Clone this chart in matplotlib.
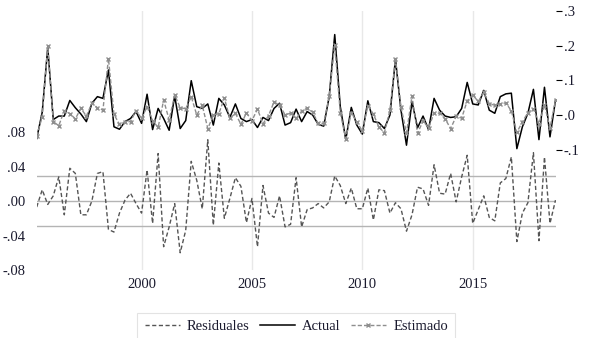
import matplotlib
matplotlib.use("Agg")
import matplotlib.pyplot as plt
import numpy as np
import pandas as pd

plt.rcParams['font.family'] = ['Liberation Serif', 'DejaVu Serif']

# quarterly sample 1995Q2 - 2018Q4
start_q = '1995Q2'
end_q = '2018Q4'

actual = [-0.068, 0.008, 0.195, -0.013, -0.003, -0.003, 0.042, 0.021, 0.003, -0.019,
          0.034, 0.053, 0.048, 0.130, -0.034, -0.041, -0.019, -0.010, 0.010, -0.024,
          0.060, -0.042, 0.019, -0.010, -0.044, 0.055, -0.039, -0.016, 0.099, 0.024,
          0.019, 0.032, -0.029, 0.048, 0.029, -0.007, 0.032, -0.010, -0.019, -0.013,
          -0.036, -0.007, -0.016, 0.019, 0.034, -0.029, -0.022, 0.017, -0.019, 0.010,
          0.000, -0.027, -0.032, 0.053, 0.232, 0.025, -0.071, 0.022, -0.029, -0.055,
          0.041, -0.019, -0.022, -0.039, 0.000, 0.161, 0.014, -0.087, 0.039, -0.037,
          -0.003, -0.042, 0.048, 0.014, -0.003, -0.007, -0.005, 0.019, 0.094, 0.032,
          0.029, 0.071, 0.014, 0.005, 0.053, 0.061, 0.063, -0.097, -0.034, 0.005,
          0.074, -0.071, 0.080, -0.063, 0.043]

fitted = [-0.061, -0.005, 0.199, -0.019, -0.031, 0.013, 0.004, -0.011, 0.019, -0.003,
          0.034, 0.021, 0.014, 0.163, 0.002, -0.027, -0.020, -0.019, 0.013, -0.010,
          0.024, -0.016, -0.036, 0.043, -0.014, 0.058, 0.021, 0.018, 0.053, 0.000,
          0.028, -0.039, -0.001, 0.004, 0.049, -0.010, 0.005, -0.027, 0.006, -0.016,
          0.017, -0.025, -0.002, 0.038, 0.028, 0.001, 0.005, -0.010, 0.011, 0.020,
          0.008, -0.024, -0.024, 0.054, 0.203, 0.007, -0.068, 0.007, -0.020, -0.046,
          0.026, 0.003, -0.035, -0.051, 0.014, 0.163, 0.023, -0.052, 0.055, -0.053,
          -0.017, -0.037, 0.006, 0.005, -0.011, -0.039, -0.004, -0.009, 0.041, 0.058,
          0.039, 0.065, 0.033, 0.028, 0.032, 0.035, 0.012, -0.050, -0.020, 0.007,
          0.018, -0.025, 0.029, -0.037, 0.042]

resid = [-0.007, 0.013, -0.004, 0.006, 0.028, -0.016, 0.038, 0.032, -0.016, -0.016,
         0.000, 0.032, 0.034, -0.033, -0.036, -0.014, 0.001, 0.009, -0.003, -0.014,
         0.036, -0.026, 0.055, -0.053, -0.030, -0.003, -0.060, -0.034, 0.046, 0.024,
         -0.009, 0.071, -0.028, 0.044, -0.020, 0.003, 0.027, 0.017, -0.025, 0.003,
         -0.053, 0.018, -0.014, -0.019, 0.006, -0.030, -0.027, 0.027, -0.030, -0.010,
         -0.008, -0.003, -0.008, -0.001, 0.029, 0.018, -0.003, 0.015, -0.009, -0.009,
         0.015, -0.022, 0.013, 0.012, -0.014, -0.002, -0.009, -0.035, -0.016, 0.016,
         0.014, -0.005, 0.042, 0.009, 0.008, 0.032, -0.001, 0.028, 0.053, -0.026,
         -0.010, 0.006, -0.019, -0.023, 0.021, 0.026, 0.051, -0.047, -0.014, -0.002,
         0.056, -0.046, 0.051, -0.026, 0.001]

resid_se = 0.029

year_ticks = [2000, 2005, 2010, 2015]
left_ticks = [-0.08, -0.04, 0.0, 0.04, 0.08]
left_labels = ['-.08', '-.04', '.00', '.04', '.08']
right_ticks = [-0.1, 0.0, 0.1, 0.2, 0.3]
right_labels = ['-.1', '.0', '.1', '.2', '.3']
legend_labels = ['Residuales', 'Actual', 'Estimado']

periods = pd.period_range(start_q, end_q, freq='Q')
x = np.array([p.year + (p.quarter - 1) / 4 for p in periods])

W, H = 589, 338
fig = plt.figure(figsize=(W / 100, H / 100), dpi=100)
ax = fig.add_axes([36.7 / W, 1 - 270 / H, (555.5 - 36.7) / W, 259 / H])
ax2 = ax.twinx()

txt_col = '#1a1a2e'

# residual panel (left scale)
for v in [-resid_se, 0.0, resid_se]:
    ax.axhline(v, color='#b4b4b4', lw=1.0, zorder=1)
l_res, = ax.plot(x, resid, color='#555555', lw=1.0, dashes=(3, 1.8), zorder=3)
ax.set_ylim(-0.08, 0.2203)
ax.set_xlim(x[0], x[-1])
ax.set_yticks(left_ticks)
ax.set_yticklabels(left_labels)
ax.set_xticks(year_ticks)
ax.set_xticklabels([str(y) for y in year_ticks])
ax.grid(axis='x', color='#e8e8e8', lw=1.0)
ax.set_axisbelow(True)
ax.tick_params(axis='y', length=0, pad=8, labelsize=10.5, labelcolor=txt_col)
ax.tick_params(axis='x', length=0, pad=6, labelsize=10.5, labelcolor=txt_col)

# actual / fitted (right scale)
l_act, = ax2.plot(x, actual, color='black', lw=1.1, zorder=3)
l_fit, = ax2.plot(x, fitted, color='#8e8e8e', lw=1.0, dashes=(3, 1.5),
                  marker='x', markersize=3.5, markeredgewidth=1.0, zorder=4)
ax2.set_ylim(-0.447, 0.3)
ax2.set_yticks(right_ticks)
ax2.set_yticklabels(right_labels)
ax2.tick_params(axis='y', length=4, width=0.8, pad=2, labelsize=10.5,
                labelcolor=txt_col, color='black')

for a in (ax, ax2):
    for s in a.spines.values():
        s.set_visible(False)

leg = fig.legend([l_res, l_act, l_fit], legend_labels, loc='upper center',
                 bbox_to_anchor=(0.503, 0.075), ncol=3, frameon=True,
                 fancybox=False, edgecolor='#dddddd', fontsize=10.5,
                 handlelength=2.4, handletextpad=0.5, columnspacing=0.7,
                 borderpad=0.5, borderaxespad=0.0, numpoints=1,
                 labelcolor=txt_col)
leg.get_frame().set_linewidth(0.8)

fig.savefig('out.png', dpi=100)
